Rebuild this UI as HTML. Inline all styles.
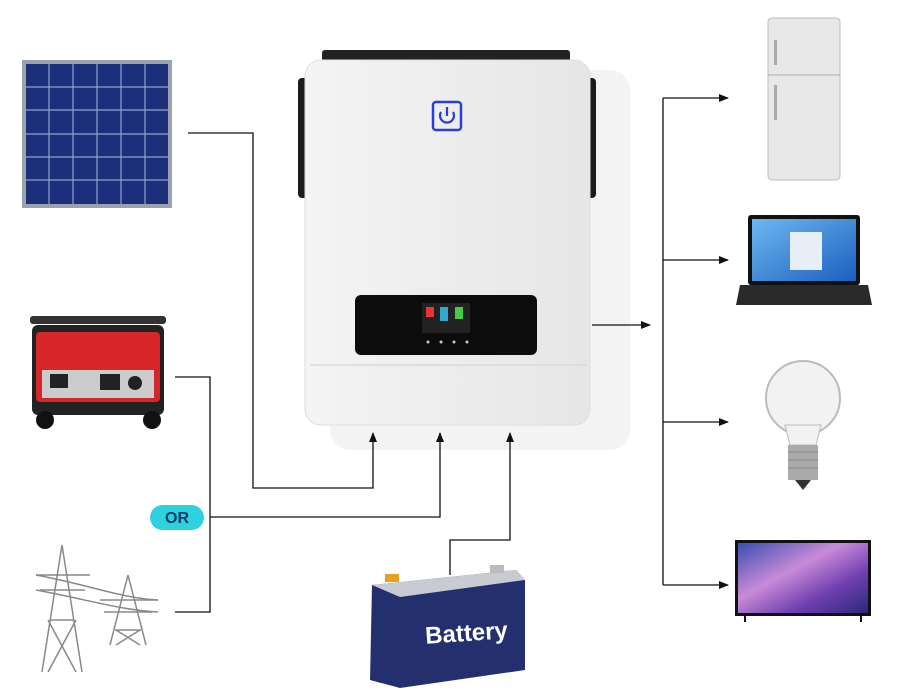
<!DOCTYPE html>
<html><head><meta charset="utf-8"><style>
html,body{margin:0;padding:0;background:#fff;}
svg{display:block;font-family:"Liberation Sans",sans-serif;}
</style></head><body>
<svg width="914" height="699" viewBox="0 0 914 699">
<defs>
<marker id="ar" markerWidth="10" markerHeight="10" refX="9" refY="5" orient="auto" markerUnits="userSpaceOnUse">
<path d="M0,1 L10,5 L0,9 Z" fill="#111"/></marker>
<linearGradient id="inv" x1="0" x2="1"><stop offset="0" stop-color="#f4f4f4"/><stop offset="1" stop-color="#e6e6e6"/></linearGradient>
<linearGradient id="tv" x1="0" y1="0" x2="1" y2="1"><stop offset="0" stop-color="#3a4fb0"/><stop offset="0.4" stop-color="#c98ad8"/><stop offset="0.7" stop-color="#6f3fb0"/><stop offset="1" stop-color="#2a2a7a"/></linearGradient>
<linearGradient id="lap" x1="0" y1="0" x2="1" y2="1"><stop offset="0" stop-color="#6fb8f0"/><stop offset="1" stop-color="#1a5fc0"/></linearGradient>
</defs>
<!-- shadow -->
<rect x="330" y="70" width="300" height="380" fill="#f3f3f3" rx="20"/>
<!-- solar panel -->
<rect x="22" y="60" width="150" height="148" fill="#9aa3ad"/>
<rect x="26" y="64" width="142" height="140" fill="#1b2f7a"/>
<g stroke="#8fa0c8" stroke-width="1.2">
<line x1="49" y1="64" x2="49" y2="204"/><line x1="73" y1="64" x2="73" y2="204"/><line x1="97" y1="64" x2="97" y2="204"/><line x1="121" y1="64" x2="121" y2="204"/><line x1="145" y1="64" x2="145" y2="204"/>
<line x1="26" y1="87" x2="168" y2="87"/><line x1="26" y1="110" x2="168" y2="110"/><line x1="26" y1="134" x2="168" y2="134"/><line x1="26" y1="157" x2="168" y2="157"/><line x1="26" y1="180" x2="168" y2="180"/>
</g>
<!-- generator -->
<rect x="32" y="325" width="132" height="90" fill="#222" rx="6"/>
<rect x="36" y="332" width="124" height="70" fill="#d8252a" rx="4"/>
<rect x="42" y="370" width="112" height="28" fill="#ccc"/>
<rect x="50" y="374" width="18" height="14" fill="#222"/><rect x="100" y="374" width="20" height="16" fill="#222"/><circle cx="135" cy="383" r="7" fill="#222"/>
<circle cx="45" cy="420" r="9" fill="#111"/><circle cx="152" cy="420" r="9" fill="#111"/>
<rect x="30" y="316" width="136" height="8" fill="#333" rx="3"/>
<!-- pylons -->
<g stroke="#888" stroke-width="1.5" fill="none">
<path d="M42,672 L62,545 L82,672 M50,620 L74,620 M55,590 L69,590 M36,575 L90,575 M40,590 L85,590 M48,672 L76,620 M76,672 L48,620"/>
<path d="M110,645 L128,575 L146,645 M100,600 L158,600 M104,612 L152,612 M115,630 L141,630 M116,645 L140,630 M140,645 L116,630"/>
<path d="M36,575 C90,585 120,598 158,600 M36,590 C90,600 120,610 158,612"/>
</g>
<!-- lines -->
<g stroke="#111" stroke-width="1.3" fill="none">
<polyline points="188,133 253,133 253,488 373,488 373,433" marker-end="url(#ar)"/>
<polyline points="175,377 210,377 210,612 175,612"/>
<polyline points="210,517 440,517 440,433" marker-end="url(#ar)"/>
<polyline points="450,575 450,540 510,540 510,433" marker-end="url(#ar)"/>
<line x1="592" y1="325" x2="650" y2="325" marker-end="url(#ar)"/>
<line x1="663" y1="98" x2="663" y2="585"/>
<line x1="663" y1="98" x2="728" y2="98" marker-end="url(#ar)"/>
<line x1="663" y1="260" x2="728" y2="260" marker-end="url(#ar)"/>
<line x1="663" y1="422" x2="728" y2="422" marker-end="url(#ar)"/>
<line x1="663" y1="585" x2="728" y2="585" marker-end="url(#ar)"/>
</g>
<!-- OR badge -->
<rect x="150" y="505" width="54" height="25" rx="12.5" fill="#2ed1e0"/>
<text x="177" y="523" font-size="16" font-weight="bold" fill="#0b3d66" text-anchor="middle">OR</text>
<!-- inverter -->
<rect x="322" y="50" width="248" height="14" fill="#222" rx="3"/>
<rect x="298" y="78" width="14" height="120" fill="#1b1b1b" rx="4"/>
<rect x="582" y="78" width="14" height="120" fill="#1b1b1b" rx="4"/>
<rect x="305" y="60" width="285" height="365" rx="16" fill="url(#inv)" stroke="#ddd"/>
<line x1="310" y1="365" x2="586" y2="365" stroke="#d0d0d0"/>
<rect x="433" y="102" width="28" height="28" rx="3" fill="none" stroke="#2a3fd0" stroke-width="2.5"/>
<path d="M441,112 a7,7 0 1,0 12,0" fill="none" stroke="#2a3fd0" stroke-width="2.2"/><line x1="447" y1="107" x2="447" y2="116" stroke="#2a3fd0" stroke-width="2.2"/>
<rect x="355" y="295" width="182" height="60" rx="6" fill="#0c0c0c"/>
<rect x="422" y="303" width="48" height="30" fill="#222"/>
<rect x="426" y="307" width="8" height="10" fill="#e33"/><rect x="440" y="307" width="8" height="14" fill="#3ac"/><rect x="455" y="307" width="8" height="12" fill="#4c4"/>
<circle cx="428" cy="342" r="1.5" fill="#ccc"/><circle cx="441" cy="342" r="1.5" fill="#ccc"/><circle cx="454" cy="342" r="1.5" fill="#ccc"/><circle cx="467" cy="342" r="1.5" fill="#ccc"/>
<!-- battery -->
<path d="M372,585 L516,570 L525,580 L525,670 L400,688 L370,680 Z" fill="#24306e"/>
<path d="M372,585 L516,570 L525,580 L400,597 Z" fill="#c9cbd2"/>
<rect x="385" y="574" width="14" height="8" fill="#e8a020"/><rect x="490" y="565" width="14" height="8" fill="#bbb"/>
<text x="467" y="641" font-size="24" font-weight="bold" fill="#fff" text-anchor="middle" transform="rotate(-4 467 641)">Battery</text>
<!-- fridge -->
<rect x="768" y="18" width="72" height="162" rx="4" fill="#e8e8e8" stroke="#bbb"/>
<line x1="768" y1="75" x2="840" y2="75" stroke="#aaa"/>
<rect x="774" y="40" width="3" height="25" fill="#aaa"/><rect x="774" y="85" width="3" height="35" fill="#aaa"/>
<!-- laptop -->
<rect x="748" y="215" width="112" height="70" rx="3" fill="#111"/>
<rect x="752" y="219" width="104" height="62" fill="url(#lap)"/>
<rect x="790" y="232" width="32" height="38" fill="#e8eef8"/>
<path d="M740,285 L868,285 L872,305 L736,305 Z" fill="#2a2a2a"/>
<!-- bulb -->
<circle cx="803" cy="398" r="37" fill="#f2f2f2" stroke="#bbb" stroke-width="2"/>
<path d="M785,425 L821,425 L816,445 L790,445 Z" fill="#f2f2f2" stroke="#bbb"/>
<rect x="788" y="445" width="30" height="35" fill="#aaa"/>
<g stroke="#888"><line x1="788" y1="452" x2="818" y2="452"/><line x1="788" y1="460" x2="818" y2="460"/><line x1="788" y1="468" x2="818" y2="468"/></g>
<path d="M795,480 L811,480 L803,490 Z" fill="#333"/>
<!-- TV -->
<rect x="735" y="540" width="136" height="76" fill="#111"/>
<rect x="738" y="543" width="130" height="70" fill="url(#tv)"/>
<line x1="745" y1="616" x2="745" y2="622" stroke="#111" stroke-width="2"/><line x1="861" y1="616" x2="861" y2="622" stroke="#111" stroke-width="2"/>
</svg>
</body></html>
